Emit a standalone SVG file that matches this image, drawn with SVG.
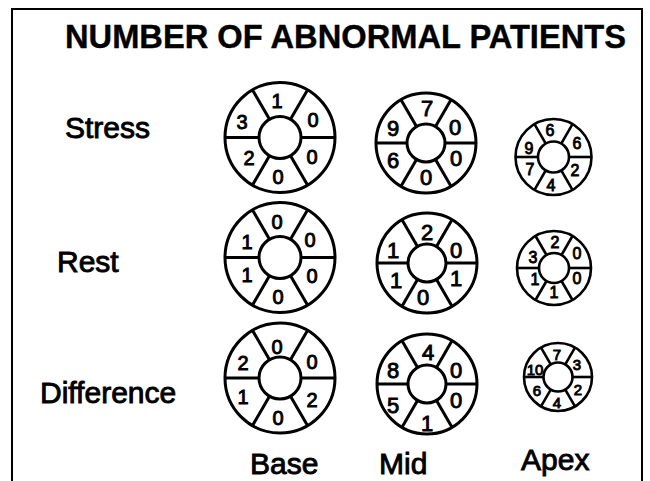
<svg xmlns="http://www.w3.org/2000/svg" width="650" height="481" viewBox="0 0 650 481">
<style>
.frame{fill:none;stroke:#000;stroke-width:2}
.w circle,.w line{fill:none;stroke:#000;stroke-width:3}
.wa circle,.wa line{stroke-width:2.6}
.d{font-family:"Liberation Sans",Arial,sans-serif;text-anchor:middle;fill:#000;stroke:#000;stroke-width:0.9}
.b{font-size:20px}.m{font-size:22px}.a{font-size:16px}.a2{font-size:15px}
.lbl{font-family:"Liberation Sans",Arial,sans-serif;font-size:30px;fill:#000;stroke:#000;stroke-width:0.9}
.title{font-family:"Liberation Sans",Arial,sans-serif;font-size:34px;font-weight:bold;fill:#000;stroke:#000;stroke-width:0.4}
</style>
<rect width="650" height="481" fill="#fff"/>
<g id="frame">
<path class="frame" d="M12,481 V9 H642 V481"/>
</g>
<g id="title"><text class="title" x="65" y="48" textLength="561" lengthAdjust="spacingAndGlyphs">NUMBER OF ABNORMAL PATIENTS</text></g>
<g id="row-labels">
<text class="lbl" x="65" y="138">Stress</text>
<text class="lbl" x="57" y="272">Rest</text>
<text class="lbl" x="40" y="403">Difference</text>
</g>
<g id="col-labels">
<text class="lbl" x="250" y="474">Base</text>
<text class="lbl" x="379" y="474">Mid</text>
<text class="lbl" x="521" y="470">Apex</text>
</g>

<g id="base-stress" class="w" transform="translate(280,137.5)">
<circle r="55"/><circle r="21"/>
<line x1="-55" y1="0" x2="-21" y2="0"/><line x1="21" y1="0" x2="55" y2="0"/>
<line x1="-10.5" y1="-18.2" x2="-27.5" y2="-47.6"/><line x1="10.5" y1="-18.2" x2="27.5" y2="-47.6"/>
<line x1="-10.5" y1="18.2" x2="-27.5" y2="47.6"/><line x1="10.5" y1="18.2" x2="27.5" y2="47.6"/>
</g>
<g id="base-rest" class="w" transform="translate(280,257.5)">
<circle r="55"/><circle r="21"/>
<line x1="-55" y1="0" x2="-21" y2="0"/><line x1="21" y1="0" x2="55" y2="0"/>
<line x1="-10.5" y1="-18.2" x2="-27.5" y2="-47.6"/><line x1="10.5" y1="-18.2" x2="27.5" y2="-47.6"/>
<line x1="-10.5" y1="18.2" x2="-27.5" y2="47.6"/><line x1="10.5" y1="18.2" x2="27.5" y2="47.6"/>
</g>
<g id="base-diff" class="w" transform="translate(280,378)">
<circle r="55"/><circle r="21"/>
<line x1="-55" y1="0" x2="-21" y2="0"/><line x1="21" y1="0" x2="55" y2="0"/>
<line x1="-10.5" y1="-18.2" x2="-27.5" y2="-47.6"/><line x1="10.5" y1="-18.2" x2="27.5" y2="-47.6"/>
<line x1="-10.5" y1="18.2" x2="-27.5" y2="47.6"/><line x1="10.5" y1="18.2" x2="27.5" y2="47.6"/>
</g>

<g id="mid-stress" class="w" transform="translate(426,143)">
<circle r="50"/><circle r="19"/>
<line x1="-50" y1="0" x2="-19" y2="0"/><line x1="19" y1="0" x2="50" y2="0"/>
<line x1="-9.5" y1="-16.5" x2="-25" y2="-43.3"/><line x1="9.5" y1="-16.5" x2="25" y2="-43.3"/>
<line x1="-9.5" y1="16.5" x2="-25" y2="43.3"/><line x1="9.5" y1="16.5" x2="25" y2="43.3"/>
</g>
<g id="mid-rest" class="w" transform="translate(427,263)">
<circle r="50"/><circle r="19"/>
<line x1="-50" y1="0" x2="-19" y2="0"/><line x1="19" y1="0" x2="50" y2="0"/>
<line x1="-9.5" y1="-16.5" x2="-25" y2="-43.3"/><line x1="9.5" y1="-16.5" x2="25" y2="-43.3"/>
<line x1="-9.5" y1="16.5" x2="-25" y2="43.3"/><line x1="9.5" y1="16.5" x2="25" y2="43.3"/>
</g>
<g id="mid-diff" class="w" transform="translate(427,384)">
<circle r="50"/><circle r="19"/>
<line x1="-50" y1="0" x2="-19" y2="0"/><line x1="19" y1="0" x2="50" y2="0"/>
<line x1="-9.5" y1="-16.5" x2="-25" y2="-43.3"/><line x1="9.5" y1="-16.5" x2="25" y2="-43.3"/>
<line x1="-9.5" y1="16.5" x2="-25" y2="43.3"/><line x1="9.5" y1="16.5" x2="25" y2="43.3"/>
</g>

<g id="apex-stress" class="w wa" transform="translate(553.5,157)">
<circle r="38"/><circle r="15.5"/>
<line x1="-38" y1="0" x2="-15.5" y2="0"/><line x1="15.5" y1="0" x2="38" y2="0"/>
<line x1="-7.75" y1="-13.4" x2="-19" y2="-32.9"/><line x1="7.75" y1="-13.4" x2="19" y2="-32.9"/>
<line x1="-7.75" y1="13.4" x2="-19" y2="32.9"/><line x1="7.75" y1="13.4" x2="19" y2="32.9"/>
</g>
<g id="apex-rest" class="w wa" transform="translate(554,268)">
<circle r="37"/><circle r="15"/>
<line x1="-37" y1="0" x2="-15" y2="0"/><line x1="15" y1="0" x2="37" y2="0"/>
<line x1="-7.5" y1="-13" x2="-18.5" y2="-32"/><line x1="7.5" y1="-13" x2="18.5" y2="-32"/>
<line x1="-7.5" y1="13" x2="-18.5" y2="32"/><line x1="7.5" y1="13" x2="18.5" y2="32"/>
</g>
<g id="apex-diff" class="w wa" transform="translate(558,377)">
<circle r="34"/><circle r="14.5"/>
<line x1="-34" y1="0" x2="-14.5" y2="0"/><line x1="14.5" y1="0" x2="34" y2="0"/>
<line x1="-7.25" y1="-12.6" x2="-17" y2="-29.4"/><line x1="7.25" y1="-12.6" x2="17" y2="-29.4"/>
<line x1="-7.25" y1="12.6" x2="-17" y2="29.4"/><line x1="7.25" y1="12.6" x2="17" y2="29.4"/>
</g>

<g id="base-stress-values" class="d b">
<text x="277" y="108">1</text><text x="313" y="127">0</text><text x="242" y="129">3</text>
<text x="249" y="165">2</text><text x="278" y="184">0</text><text x="312" y="164">0</text>
</g>
<g id="base-rest-values" class="d b">
<text x="277" y="229">0</text><text x="247" y="249">1</text><text x="310" y="247">0</text>
<text x="247" y="282">1</text><text x="278" y="304">0</text><text x="312" y="283">0</text>
</g>
<g id="base-diff-values" class="d b">
<text x="277" y="354">0</text><text x="243" y="370">2</text><text x="312" y="369">0</text>
<text x="243" y="404">1</text><text x="278" y="425">0</text><text x="312" y="407">2</text>
</g>
<g id="mid-stress-values" class="d m">
<text x="427" y="115.5">7</text><text x="393" y="135.5">9</text><text x="455" y="134.5">0</text>
<text x="393" y="167.5">6</text><text x="426" y="184.5">0</text><text x="456" y="165.5">0</text>
</g>
<g id="mid-rest-values" class="d m">
<text x="427" y="239.5">2</text><text x="393" y="257.5">1</text><text x="456" y="257.5">0</text>
<text x="396" y="287.5">1</text><text x="423" y="304.5">0</text><text x="456" y="285.5">1</text>
</g>
<g id="mid-diff-values" class="d m">
<text x="428" y="359.5">4</text><text x="393" y="377.5">8</text><text x="456" y="377.5">0</text>
<text x="393" y="412.5">5</text><text x="427" y="430.5">1</text><text x="456" y="407.5">0</text>
</g>
<g id="apex-stress-values" class="d a">
<text x="550" y="135.6">6</text><text x="577" y="148.6">6</text><text x="529" y="153.6">9</text>
<text x="530" y="174.6">7</text><text x="551" y="190.6">4</text><text x="575" y="175.6">2</text>
</g>
<g id="apex-rest-values" class="d a">
<text x="555" y="247.6">2</text><text x="533" y="262.6">3</text><text x="577" y="258.6">0</text>
<text x="535" y="284.6">1</text><text x="554" y="297.6">1</text><text x="577" y="283.6">0</text>
</g>
<g id="apex-diff-values" class="d a2">
<text x="557" y="360">7</text><text x="535" y="375">10</text><text x="577" y="370">3</text>
<text x="537" y="396">6</text><text x="557" y="408">4</text><text x="578" y="395">2</text>
</g>
</svg>
